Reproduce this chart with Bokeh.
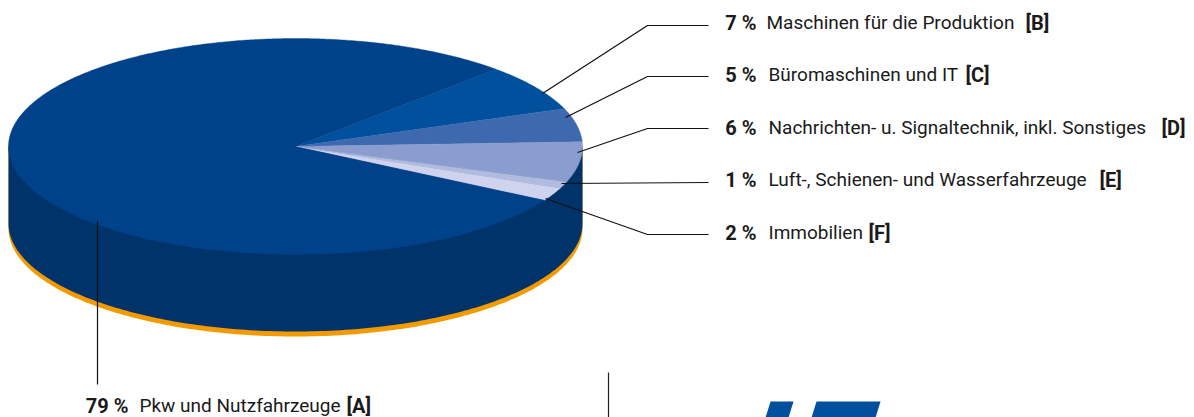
import numpy as np
from bokeh.plotting import figure
from bokeh.models import Range1d
from bokeh.core.properties import value
from bokeh.embed import file_html
from bokeh.resources import INLINE

# ---- data ----
keys = ["B", "C", "D", "E", "F", "A"]
shares = [7, 5, 6, 1, 2, 79]
names = ["Maschinen für die Produktion", "Büromaschinen und IT",
         "Nachrichten- u. Signaltechnik, inkl. Sonstiges",
         "Luft-, Schienen- und Wasserfahrzeuge", "Immobilien", "Pkw und Nutzfahrzeuge"]
colors = ["#00509E", "#3E69AE", "#8B9DCF", "#B0BBE0", "#D0D3EE", "#00428A"]

# ---- geometry (reference pixels) ----
CX, CY, RX, RY = 295, 146, 287, 108
DEPTH, RIM = 77, 5
START = 45.7
FONT = "Roboto"
SIZE = "19px"
BOLD_SIZE = "20px"

p = figure(width=1194, height=417, output_backend="svg", toolbar_location=None,
           x_range=Range1d(0, 1194), y_range=Range1d(417, 0),
           min_border=0, outline_line_color=None, background_fill_color="white")
p.axis.visible = False
p.grid.visible = False

def hull(dy):
    t = np.linspace(0, np.pi, 181)
    xs = np.r_[CX + RX, CX + RX * np.cos(t)]
    ys = np.r_[CY + dy, CY + dy + RY * np.sin(t)]
    xs = np.r_[CX + RX, xs, CX - RX]
    ys = np.r_[CY, ys, CY]
    return xs, ys

x, y = hull(DEPTH + RIM)
p.patch(x, y, fill_color="#F39A00", line_color=None)
x, y = hull(DEPTH)
p.patch(x, y, fill_color="#00336A", line_color=None)

angle = START
for share, color in zip(shares, colors):
    sweep = share * 3.6
    t = np.radians(np.linspace(angle, angle - sweep, max(int(sweep) * 2, 6)))
    p.patch(np.r_[CX, CX + RX * np.cos(t)], np.r_[CY, CY - RY * np.sin(t)],
            fill_color=color, line_color=color, line_width=0.4)
    angle -= sweep

leaders = {
    "B": ([542, 647, 708], [93, 25, 25]),
    "C": ([565, 647, 708], [117, 76, 76]),
    "D": ([577, 647, 708], [152, 128, 128]),
    "E": ([561, 708], [183, 182]),
    "F": ([545, 647, 708], [198, 234, 234]),
    "A": ([97, 97], [221, 384]),
}
for k in keys:
    p.line(*leaders[k], line_color="#111111", line_width=1.2)

layout = {  # bold right edge, name left, tag left, baseline
    "B": (756, 766, 1025, 22),
    "C": (756, 768, 965, 74),
    "D": (756, 768, 1161, 127),
    "E": (756, 768, 1099, 179),
    "F": (756, 768, 868, 232),
    "A": (128, 139, 346, 405),
}
for k, s, n in zip(keys, shares, names):
    bx, nx, tx, by = layout[k]
    p.text([bx], [by], text=[f"{s} %"], text_font=value(FONT), text_font_size=BOLD_SIZE,
           text_font_style="bold", text_align="right", text_baseline="alphabetic", text_color="#1a1a1a")
    p.text([nx], [by], text=[n], text_font=value(FONT), text_font_size=SIZE,
           text_align="left", text_baseline="alphabetic", text_color="#1a1a1a")
    p.text([tx], [by], text=[f"[{k}]"], text_font=value(FONT), text_font_size=BOLD_SIZE,
           text_font_style="bold", text_align="left", text_baseline="alphabetic", text_color="#1a1a1a")

# divider and logo fragment at the bottom edge
p.line([608, 608], [372, 417], line_color="#222222", line_width=1.2)
p.patch([770, 793, 788, 765], [401, 401, 417, 417], fill_color="#00509E", line_color=None)
p.patch([816, 880, 875, 811], [401, 401, 417, 417], fill_color="#00509E", line_color=None)

open("out.html", "w").write(file_html(p, INLINE))
